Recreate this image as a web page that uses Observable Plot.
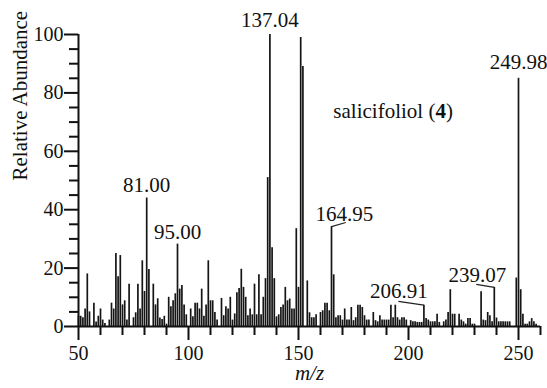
<!DOCTYPE html>
<html><head><meta charset="utf-8">
<script src="https://cdn.jsdelivr.net/npm/d3@7"></script>
<script src="https://cdn.jsdelivr.net/npm/@observablehq/plot@0.6"></script>
<style>
body{margin:0;background:#fff}
</style>
</head><body><div id="chart"></div>
<script>
// m/z of the first value; one value per unit m/z
const mzStart = 50;
const abundance = [
  3.5, 3.5, 3, 6, 18, 5, 0, 8, 1.5, 3.5,
  6, 2.2, 1, 0, 2.2, 8, 6, 25, 17, 24.3,
  7.4, 8.8, 2.2, 14.5, 0, 3, 4.7, 14.5, 6, 22.5,
  12, 44, 19.5, 0, 14.5, 7.4, 9.5, 2.9, 2.4, 3.5,
  0.8, 10, 6.8, 8.8, 11.2, 28.2, 12.8, 14, 7.4, 4,
  0, 6, 3.3, 8, 8, 6, 12.8, 3.5, 7.4, 22.5,
  8.8, 8.8, 4.8, 2.2, 0, 9.6, 3.7, 6.8, 6, 10,
  2.2, 4.3, 11.6, 13, 19.6, 13.4, 10, 3.7, 6, 4,
  14.5, 4, 17.7, 4, 10, 16.4, 51, 100, 27, 16.4,
  3.3, 4, 6.5, 7.4, 13.4, 8.8, 9.4, 6, 6, 33.5,
  13.4, 99, 89, 0, 15.6, 4.7, 3, 3, 4, 0,
  4.8, 5.4, 8, 8, 5.4, 34.2, 17.7, 3, 3.7, 3.7,
  2.2, 6, 2.2, 2.2, 6.5, 2, 3, 7.3, 7.3, 6.5,
  3.7, 2.2, 2.2, 0, 4.8, 2, 1.6, 3.7, 2.2, 2.2,
  2.2, 2.2, 7.3, 3, 7.3, 3, 2.2, 3, 3, 2.2,
  0, 2, 1.6, 1.6, 1.4, 1.4, 1.4, 7.3, 2.7, 2.2,
  1.6, 1.6, 1.6, 4.2, 1.4, 0, 1.6, 2.2, 4.8, 12.6,
  4.2, 4.2, 0, 4.2, 2.2, 1.6, 0.8, 2.7, 2.7, 0.8,
  0.8, 0, 0, 11.9, 2.2, 2, 4.8, 3.7, 1.6, 13.4,
  2.9, 1.6, 1.6, 1.6, 1.6, 1.6, 1.6, 0, 0, 16.6,
  85, 12.6, 4.2, 0.8, 0.8, 1.6, 2.7, 1.6, 0.8, 0, 0
];

// annotated peaks
const peakMz   = [81, 95, 137, 165, 207, 239, 250];
const peakText = ["81.00", "95.00", "137.04", "164.95", "206.91", "239.07", "249.98"];
const labelMz  = [81, 95, 137, 170.9, 195.6, 231.3, 250];
const labelAb  = [45.9, 29.9, 102.6, 36.2, 9.7, 15.4, 88.3];
const leaderMz = [null, null, null, 171.5, 195.4, 230.8, null];
const leaderAb = [null, null, null, 35.6, 8.6, 14.4, null];

const compoundText = "salicifoliol (4)";
const compoundMz = 193;
const compoundAb = 71.5;

const xDomain = [50, 260];
const yDomain = [0, 100];
const xMajorTicks = [50, 100, 150, 200, 250];
const xMinorTicks = [60, 70, 80, 90, 110, 120, 130, 140, 160, 170, 180, 190, 210, 220, 230, 240, 260];
const yMajorTicks = [0, 20, 40, 60, 80, 100];
const yMinorTicks = [5, 10, 15, 25, 30, 35, 45, 50, 55, 65, 70, 75, 85, 90, 95];

const yTitle = "Relative Abundance";
const xTitle = "m/z";

const bars = abundance.map((v, i) => ({mz: mzStart + i, ab: v})).filter(d => d.ab > 0);
const abAt = mz => abundance[mz - mzStart];
const labels = peakMz.map((m, i) => ({mz: m, text: peakText[i], tx: labelMz[i], ty: labelAb[i]}));
const leaders = peakMz.map((m, i) => ({mz: m, ab: abAt(m), lx: leaderMz[i], ly: leaderAb[i]})).filter(d => d.lx != null);

const font = "Liberation Serif";

const chart = Plot.plot({
  width: 547,
  height: 388,
  marginLeft: 78,
  marginRight: 7,
  marginTop: 34,
  marginBottom: 62,
  style: "background: #fff; color: #111;",
  x: {domain: xDomain, label: null},
  y: {domain: yDomain, label: null},
  marks: [
    Plot.ruleX(bars, {x: "mz", y1: 0, y2: "ab", stroke: "#151515", strokeWidth: 1.7}),
    Plot.ruleX([xDomain[0]], {y1: yDomain[0], y2: yDomain[1], stroke: "#111", strokeWidth: 2}),
    Plot.ruleY([yDomain[0]], {x1: xDomain[0], x2: xDomain[1], stroke: "#111", strokeWidth: 2}),
    Plot.axisY({ticks: yMajorTicks, tickSize: 14, tickPadding: 1, strokeWidth: 2, fontSize: 20, label: null}),
    Plot.axisY({ticks: yMinorTicks, tickSize: 9, tickFormat: () => "", strokeWidth: 2, label: null}),
    Plot.axisX({ticks: xMajorTicks, tickSize: 14, tickPadding: 5, strokeWidth: 2, fontSize: 20, label: null}),
    Plot.axisX({ticks: xMinorTicks, tickSize: 9, tickFormat: () => "", strokeWidth: 2, label: null}),
    Plot.link(leaders, {x1: "mz", y1: "ab", x2: "lx", y2: "ly", stroke: "#222", strokeWidth: 1.2}),
    Plot.text(labels, {x: "tx", y: "ty", text: "text", lineAnchor: "bottom", fontSize: 21, fill: "#111"}),
    Plot.text([compoundText], {x: compoundMz, y: compoundAb, text: d => d, lineAnchor: "bottom", fontSize: 21, fill: "#111"}),
    Plot.text([yTitle], {frameAnchor: "left", dx: -58, rotate: -90, fontSize: 21, fill: "#111"}),
    Plot.text([xTitle], {frameAnchor: "bottom", dy: 53, fontSize: 21, fontStyle: "italic", fill: "#111"})
  ]
});

// serif everywhere
chart.setAttribute("font-family", font);
chart.querySelectorAll("g, text").forEach(el => {
  if (el.hasAttribute("font-family") || el.tagName === "text") el.setAttribute("font-family", font);
  el.style.fontFamily = font;
});

// make the compound number bold
chart.querySelectorAll("text").forEach(t => {
  if (t.textContent === compoundText) {
    t.textContent = "";
    const ns = "http://www.w3.org/2000/svg";
    const a = document.createElementNS(ns, "tspan"); a.textContent = "salicifoliol (";
    const b = document.createElementNS(ns, "tspan"); b.textContent = "4"; b.setAttribute("font-weight", "bold");
    const c = document.createElementNS(ns, "tspan"); c.textContent = ")";
    t.append(a, b, c);
  }
});

document.getElementById("chart").appendChild(chart);
</script>
</body></html>
